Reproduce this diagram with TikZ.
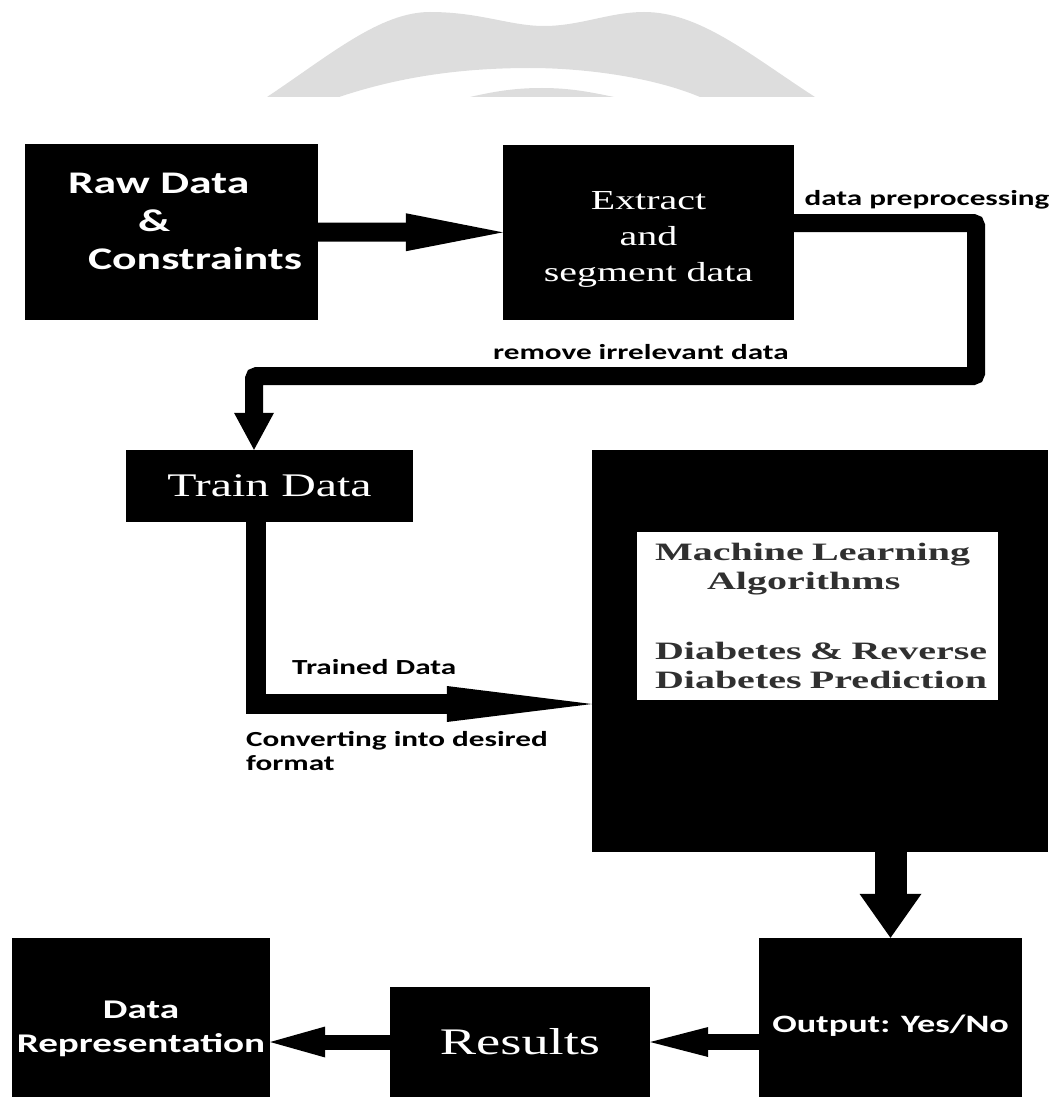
\documentclass[tikz,border=0pt]{standalone}
\usepackage{fontspec}
\usetikzlibrary{arrows.meta,calc}
\newfontfamily\calfont[FakeStretch=1.45]{Carlito}
\newfontfamily\tmsfont[FakeStretch=1.45]{Liberation Serif}
\newfontfamily\tmsbold[FakeStretch=1.6]{Liberation Serif Bold}
\definecolor{wmgray}{RGB}{221,221,221}
\definecolor{mlgray}{RGB}{48,48,48}
\tikzset{
  blk/.style={fill=black,inner sep=0pt,text=white,align=center},
  lbl/.style={inner sep=0pt,font=\calfont\bfseries\fontsize{21.5}{24}\selectfont},
  sansbig/.style 2 args={font=\calfont\bfseries\fontsize{#1}{#2}\selectfont},
  serifbig/.style 2 args={font=\tmsfont\fontsize{#1}{#2}\selectfont},
  head/.style 2 args={-{Triangle[length=#1,width=#2,line width=0pt]}}
}
\newcommand{\dropby}[1]{\rule{0pt}{#1}}

\begin{document}
\begin{tikzpicture}[x=1pt,y=-1pt]
  \useasboundingbox (0,0) rectangle (1052,1097);
  \fill[wmgray] (267,97) .. controls (330,55) and (380,12) .. (430,12)
    .. controls (480,12) and (510,26) .. (544,26)
    .. controls (580,26) and (610,12) .. (644,12)
    .. controls (700,12) and (750,55) .. (815,97) -- (700,97)
    .. controls (650,76) and (580,68) .. (530,68)
    .. controls (450,68) and (390,80) .. (339,97) -- cycle;
  \fill[wmgray] (470,97) .. controls (500,90) and (520,88) .. (542,88)
    .. controls (570,88) and (590,92) .. (614,97) -- cycle;

  \node[blk,minimum width=293pt,minimum height=176pt,align=left,text width=207pt,
    sansbig={31.5}{38}] (raw) at (171.5,232)
    {\mbox{Raw Data}\\\hspace*{70pt}\&\\\hspace*{20pt}\mbox{Constraints}\rule[-22pt]{0pt}{1pt}};
  \node[blk,minimum width=291pt,minimum height=175pt,serifbig={27.5}{36}] (extract) at (648.5,232.5)
    {\dropby{32pt}Extract\\and\\segment data};
  \node[blk,minimum width=287pt,minimum height=72pt,serifbig={33}{40}] (train) at (269.5,486) {Train Data};
  \node[blk,minimum width=456pt,minimum height=402pt] (ml) at (820,651) {};
  \node[fill=white,inner sep=0pt,minimum width=361pt,minimum height=168pt,align=left,text width=325pt,
    text=mlgray,font=\tmsbold\fontsize{25}{29.5}\selectfont] (mlalg) at (817.5,616)
    {\mbox{Machine Learning}\\\hspace*{52pt}\mbox{Algorithms}\\[40pt]\mbox{Diabetes \& Reverse}\\\mbox{Diabetes Prediction}};
  \node[blk,minimum width=263pt,minimum height=159pt,sansbig={25}{30}] (output) at (890.5,1017.5)
    {\dropby{34pt}Output: Yes/No};
  \node[blk,minimum width=260pt,minimum height=110pt,serifbig={37.5}{44}] (results) at (520,1042) {Results};
  \node[blk,minimum width=258pt,minimum height=159pt,sansbig={27}{34}]
    (datarep) at (141,1017.5) {\dropby{40pt}Data\\Representation};

  \node[lbl] (prep) at (927,200) {data preprocessing};
  \node[lbl] (remove) at (641,352) {remove irrelevant data};
  \node[lbl,anchor=west] (trained) at (292,667) {Trained Data};
  \node[lbl,anchor=west,align=left] (convert) at (246,751.5) {Converting into desired\\format};

  \draw[line width=19pt,head={97pt}{38pt}] (raw) -- (extract);
  \draw[line width=18pt,rounded corners=3pt,head={37pt}{40pt}]
    ([yshift=9.5pt]extract.east) -- (976,223) -- (976,376) -- (254,376) -- ([xshift=-15.5pt]train.north);
  \draw[line width=20pt,head={145pt}{36pt}]
    ([xshift=-13.5pt]train.south) -- (256,704) -- ([yshift=-53pt]ml.west);
  \draw[line width=32pt,head={44pt}{62pt}] (ml.south -| output.north) -- (output.north);
  \draw[line width=16pt,head={58pt}{30pt}] (output.west |- results.east) -- (results.east);
  \draw[line width=15pt,head={55pt}{31pt}] (results.west) -- (datarep.east |- results.west);
\end{tikzpicture}
\end{document}
